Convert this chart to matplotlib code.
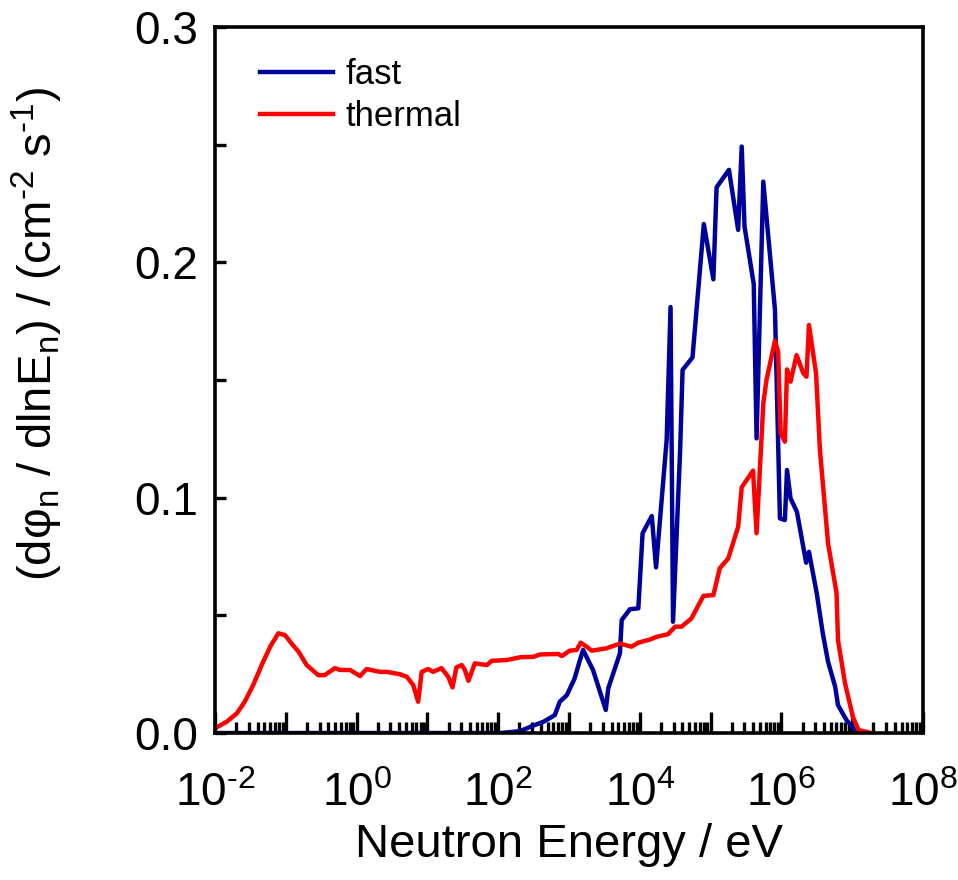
import numpy as np
import matplotlib
matplotlib.use("Agg")
import matplotlib.pyplot as plt
from matplotlib.ticker import MultipleLocator, FormatStrFormatter, NullFormatter

plt.rcParams['font.family'] = ['Liberation Sans', 'DejaVu Sans']
plt.rcParams['mathtext.fontset'] = 'custom'
plt.rcParams['mathtext.rm'] = 'Liberation Sans'
plt.rcParams['mathtext.it'] = 'Liberation Sans:italic'
plt.rcParams['mathtext.default'] = 'regular'

# log10(E / eV) and flux values
thermal_logE = [-2.0, -1.835, -1.69, -1.58, -1.46, -1.34, -1.22, -1.105, -1.01, -0.92,
                -0.82, -0.705, -0.54, -0.45, -0.305, -0.235, -0.09, 0.05, 0.14, 0.33,
                0.425, 0.61, 0.71, 0.80, 0.87, 0.92, 1.01, 1.08, 1.20, 1.295,
                1.355, 1.41, 1.485, 1.53, 1.58, 1.67, 1.84, 1.91, 2.12, 2.31,
                2.50, 2.59, 2.85, 2.90, 3.01, 3.11, 3.165, 3.25, 3.32, 3.53,
                3.72, 3.885, 3.98, 4.14, 4.24, 4.40, 4.50, 4.59, 4.73, 4.90,
                5.04, 5.13, 5.25, 5.39, 5.44, 5.60, 5.65, 5.745, 5.79, 5.91,
                5.955, 5.99, 6.05, 6.08, 6.13, 6.215, 6.31, 6.355, 6.39, 6.49,
                6.545, 6.66, 6.78, 6.80, 6.90, 7.01, 7.09, 7.27]
thermal_flux = [0.002, 0.0048, 0.0084, 0.0133, 0.0204, 0.0289, 0.0367, 0.0424, 0.0416, 0.0381,
                0.0346, 0.0289, 0.0246, 0.0246, 0.0276, 0.0268, 0.0268, 0.0242, 0.0272, 0.026,
                0.026, 0.025, 0.0239, 0.0204, 0.0133, 0.026, 0.0272, 0.026, 0.0276, 0.0239,
                0.0194, 0.0279, 0.0289, 0.0268, 0.0222, 0.0296, 0.0289, 0.0307, 0.031, 0.0322,
                0.0324, 0.0334, 0.0336, 0.0327, 0.035, 0.0353, 0.0384, 0.0367, 0.035, 0.036,
                0.038, 0.0367, 0.0384, 0.0397, 0.0409, 0.042, 0.0452, 0.0452, 0.0487, 0.0583,
                0.0586, 0.070, 0.0742, 0.0877, 0.1044, 0.1115, 0.0849, 0.1400, 0.150, 0.1667,
                0.162, 0.1274, 0.1238, 0.1545, 0.1493, 0.1606, 0.1529, 0.1514, 0.1734, 0.1529,
                0.1203, 0.0806, 0.0594, 0.0395, 0.0211, 0.0069, 0.0013, 0.0]

fast_logE = [-2.0, 2.03, 2.31, 2.49, 2.64, 2.80, 2.87, 2.97, 3.08, 3.155,
             3.20, 3.34, 3.52, 3.555, 3.72, 3.745, 3.86, 3.98, 4.04, 4.17,
             4.23, 4.38, 4.435, 4.47, 4.57, 4.605, 4.745, 4.905, 5.04, 5.085,
             5.26, 5.39, 5.44, 5.48, 5.61, 5.65, 5.745, 5.91, 5.98, 6.05,
             6.08, 6.13, 6.22, 6.35, 6.39, 6.50, 6.585, 6.66, 6.76, 6.80,
             6.92, 7.06, 7.20]
fast_flux = [0.0, 0.0, 0.0008, 0.0031, 0.0048, 0.0076, 0.0133, 0.0161, 0.0232, 0.031,
             0.0353, 0.0268, 0.0098, 0.019, 0.0339, 0.048, 0.0526, 0.053, 0.0849, 0.0922,
             0.0704, 0.1245, 0.181, 0.0473, 0.12, 0.1543, 0.1596, 0.2163, 0.1928, 0.2319,
             0.2393, 0.2138, 0.2492, 0.2152, 0.1908, 0.1252, 0.2343, 0.1798, 0.0912, 0.0905,
             0.1118, 0.0997, 0.094, 0.0724, 0.077, 0.0594, 0.0424, 0.0303, 0.0197, 0.0119,
             0.0055, 0.0006, 0.0]

decades = list(range(-2, 9))

def decade_label(k):
    if k % 2:
        return ""
    return "$10^{%s}$" % str(k).replace("-", "\u2010")

fig = plt.figure(figsize=(9.58, 8.8), dpi=100)
ax = fig.add_axes([0.2244, 0.167, 0.739, 0.8023])

ax.plot(10 ** np.array(fast_logE), fast_flux, color="#00009C", lw=3.2, label="fast")
ax.plot(10 ** np.array(thermal_logE), thermal_flux, color="#FF0000", lw=3.2, label="thermal")

ax.set_xscale("log")
ax.set_xlim(1e-2, 1e8)
ax.set_ylim(0, 0.3)

ax.set_xticks([10.0 ** k for k in decades])
ax.set_xticklabels([decade_label(k) for k in decades])
ax.set_xticks([s * 10.0 ** k for k in decades[:-1] for s in range(2, 10)], minor=True)
ax.xaxis.set_minor_formatter(NullFormatter())

ax.yaxis.set_major_locator(MultipleLocator(0.1))
ax.yaxis.set_minor_locator(MultipleLocator(0.05))
ax.yaxis.set_major_formatter(FormatStrFormatter("%.1f"))

ax.tick_params(axis="x", which="major", direction="in", length=15, width=2.4,
               labelsize=33, pad=28)
ax.tick_params(axis="x", which="minor", direction="in", length=8, width=2.4)
ax.tick_params(axis="y", which="both", direction="in", length=8, width=2.4,
               labelsize=33, pad=12)
for s in ax.spines.values():
    s.set_linewidth(2.6)

ax.set_xlabel("Neutron Energy / eV", fontsize=34, labelpad=5)
ax.set_ylabel("(d\u03c6$_n$ / dlnE$_n$) / (cm$^{\u20102}$ s$^{\u20101}$)", fontsize=34)
ax.yaxis.set_label_coords(-0.212, 0.565)

ax.legend(loc="upper left", bbox_to_anchor=(0.02, 1.0), frameon=False,
          fontsize=25, handlelength=2.1, handletextpad=0.35, labelspacing=0.25)

fig.savefig("out.png", dpi=100)
